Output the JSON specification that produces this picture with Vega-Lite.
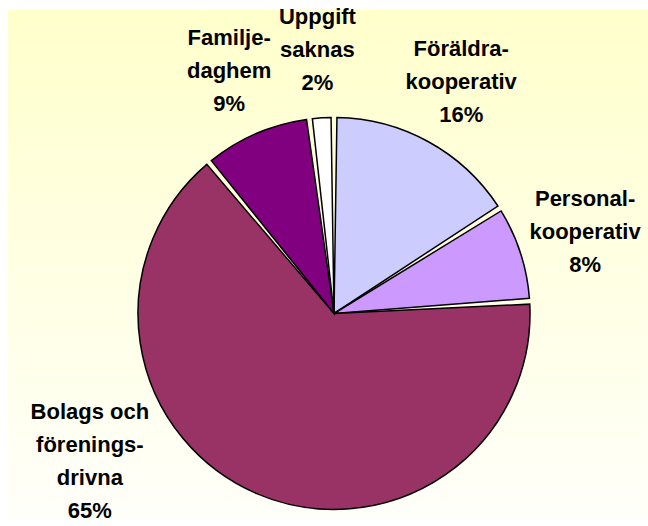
{
  "$schema": "https://vega.github.io/schema/vega-lite/v6.json",
  "width": 648,
  "height": 526,
  "autosize": {"type": "fit", "contains": "padding"},
  "padding": {"left": 8, "top": 10, "right": 0, "bottom": 0},
  "background": "white",
  "config": {"view": {"stroke": null}},
  "datasets": {
    "shares": [
      {"category": "Föräldrakooperativ", "label": "Föräldra-\nkooperativ\n16%", "value": 16, "order": 1},
      {"category": "Personalkooperativ", "label": "Personal-\nkooperativ\n8%", "value": 8, "order": 2},
      {"category": "Bolags och föreningsdrivna", "label": "Bolags och\nförenings-\ndrivna\n65%", "value": 65, "order": 3},
      {"category": "Familjedaghem", "label": "Familje-\ndaghem\n9%", "value": 9, "order": 4},
      {"category": "Uppgift saknas", "label": "Uppgift\nsaknas\n2%", "value": 2, "order": 5}
    ]
  },
  "layer": [
    {
      "data": {"values": [{}]},
      "mark": {
        "type": "rect",
        "fill": {
          "gradient": "linear",
          "x1": 0, "y1": 0, "x2": 0, "y2": 1,
          "stops": [
            {"offset": 0, "color": "#FFFFCC"},
            {"offset": 1, "color": "#FFFFFA"}
          ]
        }
      },
      "encoding": {}
    },
    {
      "data": {"name": "shares"},
      "mark": {"type": "arc", "x": {"expr": "width/2 + 6"}, "y": {"expr": "height/2 + 49"}, "outerRadius": 196, "padAngle": 0.03, "stroke": "black", "strokeWidth": 1.5},
      "encoding": {
        "theta": {"field": "value", "type": "quantitative", "stack": true},
        "order": {"field": "order", "type": "quantitative"},
        "color": {
          "field": "category",
          "type": "nominal",
          "scale": {
            "domain": ["Föräldrakooperativ", "Personalkooperativ", "Bolags och föreningsdrivna", "Familjedaghem", "Uppgift saknas"],
            "range": ["#CCCCFF", "#CC99FF", "#993366", "#800080", "#FFFFFF"]
          },
          "legend": null
        }
      }
    },
    {
      "data": {"name": "shares"},
      "mark": {"type": "text", "x": {"expr": "width/2 + 6"}, "y": {"expr": "height/2 + 49"}, "radius": 264, "dy": -33, "font": "Liberation Sans", "fontWeight": "bold", "fontSize": 22, "lineBreak": "\n", "lineHeight": 33, "align": "center", "baseline": "middle", "color": "black"},
      "encoding": {
        "theta": {"field": "value", "type": "quantitative", "stack": true},
        "order": {"field": "order", "type": "quantitative"},
        "detail": {"field": "category", "type": "nominal"},
        "text": {"field": "label", "type": "nominal", "condition": {"test": "datum.order === 3", "value": ""}}
      }
    },
    {
      "data": {"name": "shares"},
      "transform": [{"filter": "datum.order === 3"}],
      "mark": {"type": "text", "x": {"expr": "width/2 + 6"}, "y": {"expr": "height/2 + 49"}, "radius": 288, "dy": -54, "font": "Liberation Sans", "fontWeight": "bold", "fontSize": 22, "lineBreak": "\n", "lineHeight": 33, "align": "center", "baseline": "middle", "color": "black"},
      "encoding": {
        "theta": {"datum": 66.1, "type": "quantitative"},
        "text": {"field": "label", "type": "nominal"}
      }
    }
  ]
}
